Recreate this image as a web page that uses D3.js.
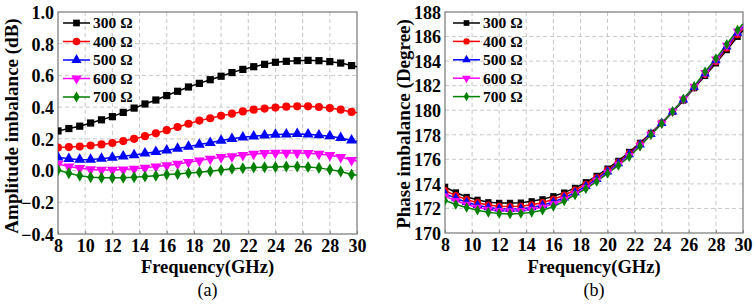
<!DOCTYPE html>
<html>
<head>
<meta charset="utf-8">
<script src="https://cdn.jsdelivr.net/npm/d3@7"></script>
<style>
  body { margin: 0; background: #fff; }
  svg { display: block; font-family: "Liberation Serif", "Times New Roman", serif; }
</style>
</head>
<body>
<svg id="chart" width="755" height="306"></svg>
<script>
// frequency points (GHz), last point only closes the line
var freqs = [8, 8.8, 9.6, 10.4, 11.2, 12, 12.8, 13.6, 14.4, 15.2, 16, 16.8, 17.6, 18.4,
    19.2, 20, 20.8, 21.6, 22.4, 23.2, 24, 24.8, 25.6, 26.4, 27.2, 28, 28.8, 29.6, 30];

var seriesNames = ["300 Ω", "400 Ω", "500 Ω", "600 Ω", "700 Ω"];
var seriesColors = ["#000000", "#ff0000", "#0000ff", "#ff00ff", "#008000"];
var seriesSymbols = [d3.symbolSquare, d3.symbolCircle, d3.symbolTriangle, "down", d3.symbolDiamond];

// (a) amplitude imbalance, dB
var amp300 = [0.25, 0.265, 0.28, 0.30, 0.32, 0.34, 0.367, 0.394, 0.42, 0.445, 0.473, 0.50, 0.527, 0.55,
    0.573, 0.595, 0.618, 0.638, 0.655, 0.67, 0.683, 0.689, 0.693, 0.695, 0.693, 0.687, 0.678, 0.662, 0.655];
var amp400 = [0.145, 0.148, 0.152, 0.158, 0.165, 0.174, 0.186, 0.20, 0.217, 0.235, 0.255, 0.275, 0.295, 0.315,
    0.33, 0.346, 0.359, 0.373, 0.384, 0.391, 0.397, 0.403, 0.405, 0.405, 0.401, 0.394, 0.384, 0.37, 0.365];
var amp500 = [0.084, 0.074, 0.069, 0.07, 0.075, 0.082, 0.09, 0.098, 0.108, 0.118, 0.128, 0.139, 0.151, 0.164,
    0.175, 0.189, 0.2, 0.21, 0.216, 0.222, 0.227, 0.229, 0.231, 0.229, 0.223, 0.217, 0.206, 0.19, 0.184];
var amp600 = [0.042, 0.025, 0.015, 0.008, 0.004, 0.004, 0.006, 0.011, 0.017, 0.025, 0.032, 0.042, 0.053, 0.063,
    0.074, 0.084, 0.09, 0.097, 0.105, 0.109, 0.111, 0.111, 0.111, 0.109, 0.105, 0.097, 0.085, 0.066, 0.06];
var amp700 = [0.004, -0.017, -0.032, -0.042, -0.046, -0.046, -0.046, -0.042, -0.038, -0.032, -0.025, -0.021, -0.015, -0.011,
    -0.004, 0.004, 0.011, 0.015, 0.019, 0.021, 0.023, 0.025, 0.025, 0.023, 0.017, 0.006, -0.006, -0.025, -0.03];

// (b) phase imbalance, degree
var ph300 = [173.75, 173.3, 172.93, 172.7, 172.5, 172.45, 172.45, 172.47, 172.58, 172.74, 172.99, 173.29, 173.67, 174.13,
    174.65, 175.24, 175.87, 176.6, 177.34, 178.15, 178.97, 179.86, 180.8, 181.8, 182.8, 183.82, 184.9, 185.98, 186.5];
var ph400 = [173.45, 173.05, 172.72, 172.47, 172.28, 172.18, 172.15, 172.18, 172.3, 172.47, 172.75, 173.08, 173.5, 173.97,
    174.52, 175.12, 175.76, 176.5, 177.27, 178.1, 178.96, 179.88, 180.84, 181.85, 182.9, 183.95, 185.05, 186.15, 186.65];
var ph500 = [173.2, 172.82, 172.5, 172.26, 172.08, 171.98, 171.95, 171.98, 172.08, 172.26, 172.52, 172.88, 173.3, 173.8,
    174.38, 175.0, 175.66, 176.4, 177.18, 178.05, 178.94, 179.88, 180.86, 181.88, 182.97, 184.05, 185.17, 186.3, 186.8];
var ph600 = [173.0, 172.62, 172.32, 172.08, 171.92, 171.82, 171.8, 171.82, 171.92, 172.1, 172.35, 172.72, 173.18, 173.68,
    174.28, 174.92, 175.58, 176.3, 177.12, 178.02, 178.92, 179.89, 180.89, 181.92, 183.05, 184.14, 185.27, 186.42, 186.92];
var ph700 = [172.65, 172.32, 172.07, 171.86, 171.68, 171.58, 171.55, 171.58, 171.68, 171.85, 172.15, 172.6, 173.1, 173.6,
    174.2, 174.85, 175.5, 176.22, 177.07, 178.0, 178.9, 179.9, 180.92, 181.96, 183.13, 184.22, 185.37, 186.54, 187.05];

var xTicks = [8, 10, 12, 14, 16, 18, 20, 22, 24, 26, 28, 30];
var ampTicks = [-0.4, -0.2, 0.0, 0.2, 0.4, 0.6, 0.8, 1.0];
var phTicks = [170, 172, 174, 176, 178, 180, 182, 184, 186, 188];

var svg = d3.select("#chart");

function drawPanel(p) {
    var x = d3.scaleLinear().domain([8, 30]).range([p.left, p.right]);
    var y = d3.scaleLinear().domain(p.yDomain).range([p.bottom, p.top]);
    var g = svg.append("g");

    var clipId = "clip" + p.id;
    svg.append("clipPath").attr("id", clipId)
        .append("rect").attr("x", p.left).attr("y", p.top - 6)
        .attr("width", p.right - p.left + 6).attr("height", p.bottom - p.top + 6);

    // grid
    g.selectAll(".vg").data(xTicks.slice(1, -1)).enter().append("line")
        .attr("x1", d => x(d)).attr("x2", d => x(d))
        .attr("y1", p.top).attr("y2", p.bottom)
        .attr("stroke", "#c8c8c8").attr("stroke-width", 1).attr("stroke-dasharray", "4,3");
    g.selectAll(".hg").data(p.yTicks.slice(1, -1)).enter().append("line")
        .attr("x1", p.left).attr("x2", p.right)
        .attr("y1", d => y(d)).attr("y2", d => y(d))
        .attr("stroke", "#c8c8c8").attr("stroke-width", 1).attr("stroke-dasharray", "4,3");

    // axes
    var xAxis = d3.axisBottom(x).tickValues(xTicks).tickSize(-3).tickPadding(5).tickFormat(d3.format("d"));
    var yAxis = d3.axisLeft(y).tickValues(p.yTicks).tickSize(0).tickPadding(4).tickFormat(p.fmt);
    var xa = g.append("g").attr("transform", "translate(0," + p.bottom + ")").call(xAxis);
    var ya = g.append("g").attr("transform", "translate(" + p.left + ",0)").call(yAxis);
    [xa, ya].forEach(function(a) {
        a.select(".domain").remove();
        a.selectAll("text").attr("fill", "#000").style("font-size", "18px").style("font-weight", "bold")
            .style("font-family", "'Liberation Serif', serif");
        a.selectAll("line").attr("stroke", "#888");
    });
    ya.selectAll("text").attr("dy", "0.35em");

    // frame
    g.append("rect").attr("x", p.left).attr("y", p.top)
        .attr("width", p.right - p.left).attr("height", p.bottom - p.top)
        .attr("fill", "none").attr("stroke", "#777").attr("stroke-width", 1.2);

    // series
    var line = d3.line().x((d, i) => x(freqs[i])).y(d => y(d));
    var plot = g.append("g").attr("clip-path", "url(#" + clipId + ")");
    p.series.forEach(function(vals, k) {
        plot.append("path").datum(vals).attr("d", line)
            .attr("fill", "none").attr("stroke", seriesColors[k]).attr("stroke-width", 1.5);
    });
    p.series.forEach(function(vals, k) {
        var sym = symbolPath(k, p.mSize);
        plot.selectAll(".m" + k).data(vals.slice(0, -1)).enter().append("path")
            .attr("d", sym.d)
            .attr("transform", (d, i) => "translate(" + x(freqs[i]) + "," + y(d) + ")" + sym.rot)
            .attr("fill", seriesColors[k]);
    });

    // legend
    seriesNames.forEach(function(name, k) {
        var ly = p.legY + k * p.legStep;
        g.append("line").attr("x1", p.legX).attr("x2", p.legX + p.legLen)
            .attr("y1", ly).attr("y2", ly).attr("stroke", seriesColors[k]).attr("stroke-width", 1.5);
        var sym = symbolPath(k, p.legSize);
        g.append("path").attr("d", sym.d)
            .attr("transform", "translate(" + (p.legX + p.legLen / 2) + "," + ly + ")" + sym.rot)
            .attr("fill", seriesColors[k]);
        g.append("text").attr("x", p.legX + p.legLen + 3).attr("y", ly).attr("dy", "0.35em")
            .style("font-size", "15.5px").style("font-weight", "bold").text(name);
    });

    // titles
    g.append("text").attr("x", (p.left + p.right) / 2).attr("y", 267).attr("dy", "0.35em")
        .attr("text-anchor", "middle").style("font-size", "18.5px").style("font-weight", "bold")
        .text("Frequency(GHz)");
    g.append("text").attr("transform", "translate(" + p.yTitleX + "," + p.yTitleY + ") rotate(-90)")
        .attr("dy", "0.35em").attr("text-anchor", "middle")
        .style("font-size", "19px").style("font-weight", "bold").text(p.yTitle);
    g.append("text").attr("x", (p.left + p.right) / 2).attr("y", 290).attr("dy", "0.35em")
        .attr("text-anchor", "middle").style("font-size", "18px").text(p.label);
}

function symbolPath(k, size) {
    var s = seriesSymbols[k];
    if (s === "down") return { d: d3.symbol(d3.symbolTriangle, size)(), rot: " rotate(180)" };
    var sz = s === d3.symbolDiamond ? size * 0.8 : size;
    return { d: d3.symbol(s, sz)(), rot: "" };
}

drawPanel({
    id: "a", left: 58, right: 357, top: 12, bottom: 234,
    yDomain: [-0.4, 1.0], yTicks: ampTicks, fmt: d3.format(".1f"),
    series: [amp300, amp400, amp500, amp600, amp700],
    mSize: 52, legSize: 45, legX: 63, legLen: 27, legY: 23, legStep: 18.5,
    yTitle: "Amplitude imbalance (dB)", yTitleX: 11, yTitleY: 126, label: "(a)"
});
drawPanel({
    id: "b", left: 445, right: 743, top: 12, bottom: 233,
    yDomain: [170, 188], yTicks: phTicks, fmt: d3.format("d"),
    series: [ph300, ph400, ph500, ph600, ph700],
    mSize: 40, legSize: 32, legX: 453, legLen: 27, legY: 23, legStep: 18.4,
    yTitle: "Phase imbalance (Degree)", yTitleX: 403, yTitleY: 124, label: "(b)"
});
</script>
</body>
</html>
